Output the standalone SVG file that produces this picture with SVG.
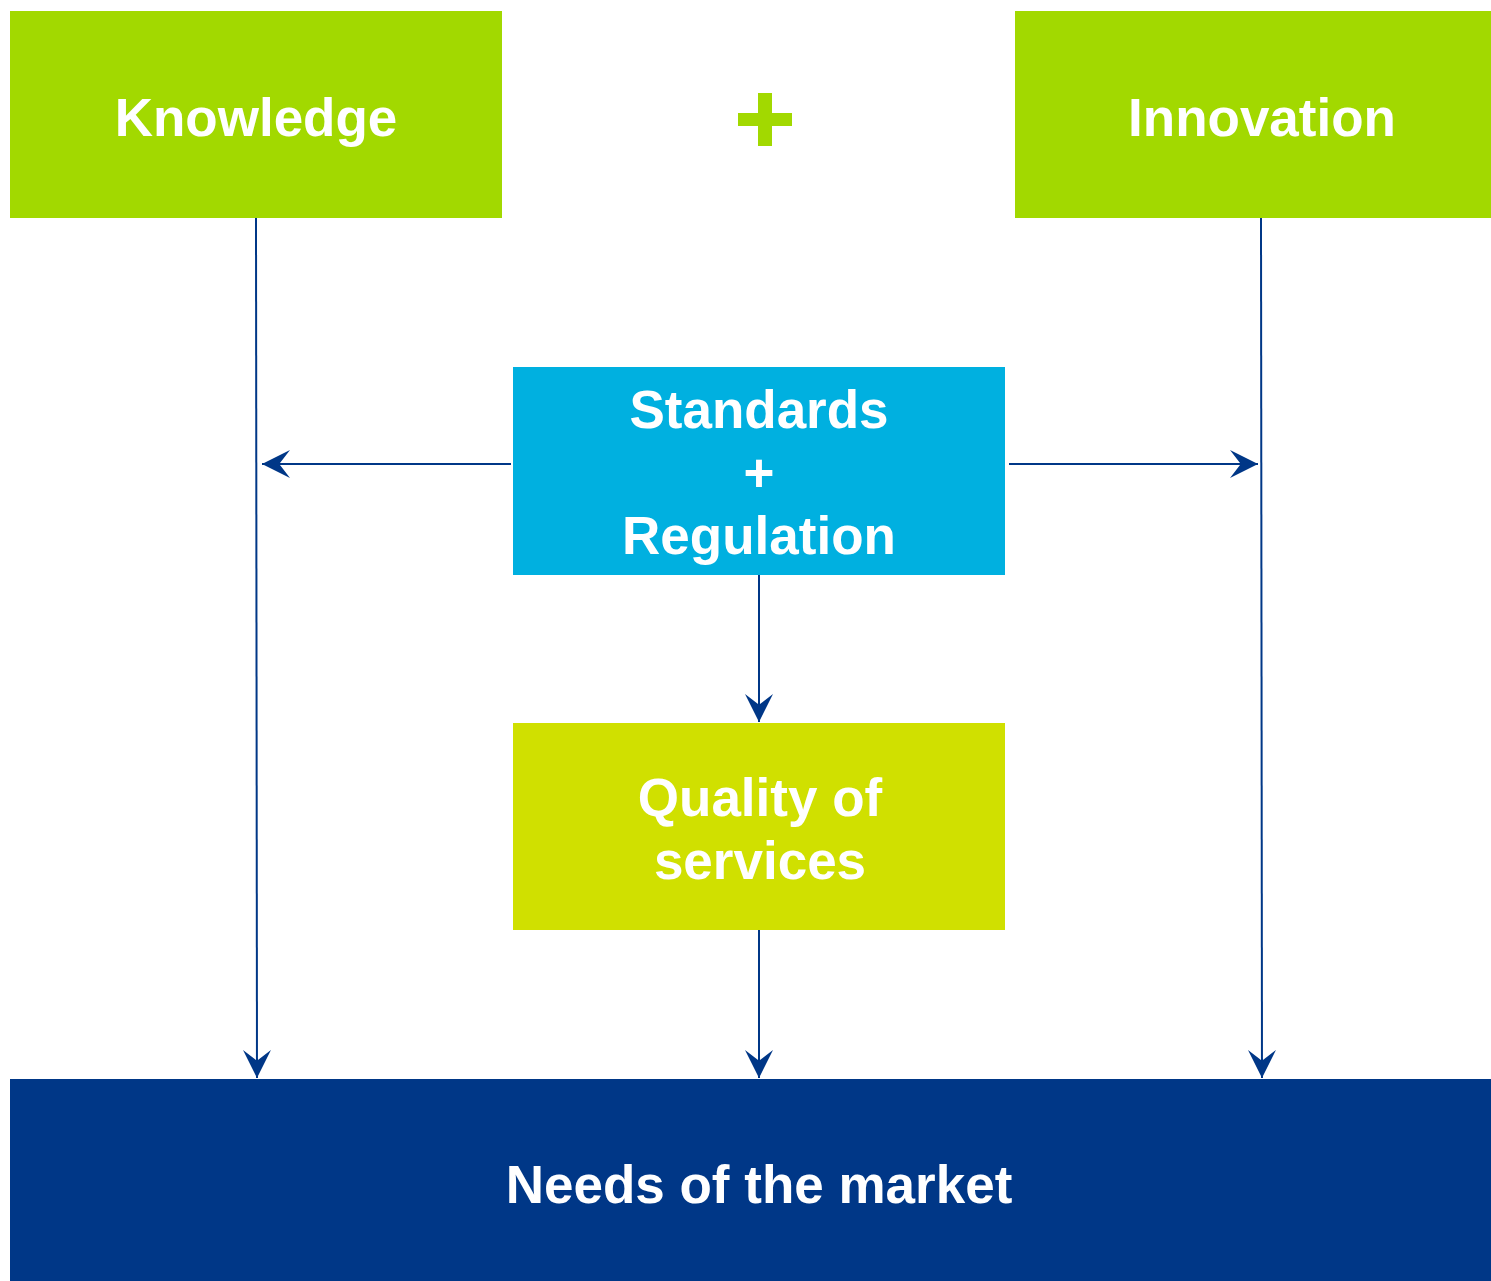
<svg xmlns="http://www.w3.org/2000/svg" width="1491" height="1281" viewBox="0 0 1491 1281">
  <style>
    .label { font-family: "Liberation Sans", Arial, sans-serif; font-weight: bold; font-size: 53px; fill: #ffffff; text-anchor: middle; }
    .link { stroke: #003787; stroke-width: 2; fill: none; marker-end: url(#arrow); }
  </style>
  <defs>
    <marker id="arrow" markerUnits="userSpaceOnUse" markerWidth="28" markerHeight="28" viewBox="0 0 26 26" refX="26" refY="13" orient="auto">
      <path d="M0,0 L26,13 L0,26 L10,13 Z" fill="#003787"/>
    </marker>
  </defs>

  <rect width="1491" height="1281" fill="#ffffff"/>

  <!-- connectors -->
  <g id="connectors">
    <line class="link" x1="256" y1="218" x2="257" y2="1078"/>
    <line class="link" x1="1261" y1="218" x2="1262" y2="1078"/>
    <line class="link" x1="511" y1="464" x2="262" y2="464"/>
    <line class="link" x1="1009" y1="464" x2="1258" y2="464"/>
    <line class="link" x1="759" y1="575" x2="759" y2="722"/>
    <line class="link" x1="759" y1="930" x2="759" y2="1078"/>
  </g>

  <g id="knowledge">
    <rect x="10" y="11" width="492" height="207" fill="#a2d900"/>
    <text class="label" x="256" y="136">Knowledge</text>
  </g>

  <g id="plus">
    <rect x="738" y="113" width="54" height="13" fill="#a2d900"/>
    <rect x="758" y="93" width="14" height="53" fill="#a2d900"/>
  </g>

  <g id="innovation">
    <rect x="1015" y="11" width="476" height="207" fill="#a2d900"/>
    <text class="label" x="1262" y="136">Innovation</text>
  </g>

  <g id="standards">
    <rect x="513" y="367" width="492" height="208" fill="#00b0e0"/>
    <text class="label" x="759" y="428">Standards</text>
    <text class="label" x="759" y="491">+</text>
    <text class="label" x="759" y="554">Regulation</text>
  </g>

  <g id="quality">
    <rect x="513" y="723" width="492" height="207" fill="#d0e000"/>
    <text class="label" x="760" y="816">Quality of</text>
    <text class="label" x="760" y="879">services</text>
  </g>

  <g id="market">
    <rect x="10" y="1079" width="1481" height="202" fill="#003787"/>
    <text class="label" x="759" y="1203">Needs of the market</text>
  </g>
</svg>
